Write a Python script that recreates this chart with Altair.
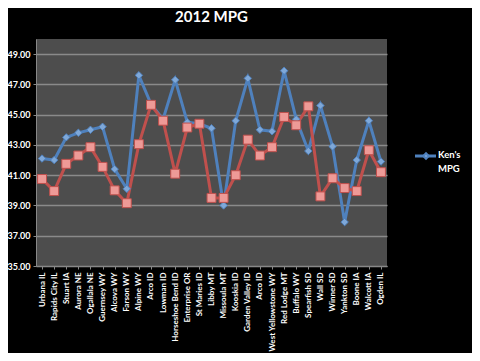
import altair as alt
import pandas as pd

cities = ["Urbana IL", "Rapids City IL", "Stuart IA", "Aurora NE", "Ogallala NE",
          "Guernsey WY", "Alcova WY", "Farson WY", "Alpine WY", "Arco ID",
          "Lowman ID", "Horseshoe Bend ID", "Enterprise OR", "St Maries ID",
          "Libby MT", "Missoula MT", "Kooskia ID", "Garden Valley ID", "Arco ID",
          "West Yellowstone WY", "Red Lodge MT", "Buffalo WY", "Spearfish SD",
          "Wall SD", "Winner SD", "Yankton SD", "Boone IA", "Walcott IA", "Ogden IL"]

kens_mpg = [42.1, 42.0, 43.5, 43.8, 44.0, 44.2, 41.4, 40.1, 47.6, 45.7,
            44.7, 47.3, 44.5, 44.4, 44.1, 39.0, 44.6, 47.4, 44.0,
            43.9, 47.9, 44.7, 42.6, 45.6, 42.9, 37.9, 42.0, 44.6, 41.9]

other_mpg = [40.75, 39.95, 41.75, 42.3, 42.85, 41.55, 40.0, 39.15, 43.05, 45.65,
             44.6, 41.1, 44.15, 44.4, 39.5, 39.5, 41.0, 43.35, 42.3,
             42.85, 44.85, 44.3, 45.55, 39.6, 40.8, 40.15, 39.95, 42.65, 41.2]

y_ticks = [35, 37, 39, 41, 43, 45, 47, 49]

df = pd.DataFrame({
    "idx": list(range(len(cities))),
    "city": cities,
    "kens": kens_mpg,
    "other": other_mpg,
})

label_expr = "[" + ",".join("'" + c + "'" for c in cities) + "][datum.value]"

BLUE = "#4f81bd"
BLUE_FILL = "#7fa8d8"
RED = "#c0504d"
RED_FILL = "#ee9a97"

x = alt.X("idx:O", title=None,
          scale=alt.Scale(type="point", padding=0.5),
          axis=alt.Axis(labelExpr=label_expr, labelAngle=270, labelColor="white",
                        labelFont="Lato", labelFontWeight="bold", labelFontSize=8,
                        labelPadding=3, tickColor="#888888", tickSize=3,
                        domainColor="#888888", grid=False, labelOverlap=False,
                        labelLimit=200))

y_axis = alt.Axis(values=y_ticks, format=".2f",
                  labelColor="white", labelFont="Lato", labelFontWeight="bold",
                  labelFontSize=9, tickColor="#888888", tickSize=3,
                  domainColor="#888888", gridColor="#8a8a8a", gridWidth=1.5,
                  labelPadding=3, labelOverlap=False)

y_scale = alt.Scale(domain=[35, 50], nice=False, zero=False)


def yenc(field):
    return alt.Y(field, title=None, scale=y_scale, axis=y_axis)


base = alt.Chart(df)

blue_line = base.mark_line(color=BLUE, strokeWidth=3).encode(x=x, y=yenc("kens:Q"))
blue_pts = base.mark_point(shape="diamond", filled=True, size=55, color=BLUE_FILL,
                           stroke=BLUE, strokeWidth=1, opacity=1).encode(
    x=x, y=yenc("kens:Q"))
red_line = base.mark_line(color=RED, strokeWidth=3).encode(x=x, y=yenc("other:Q"))
red_pts = base.mark_point(shape="square", filled=True, size=80, color=RED_FILL,
                          stroke=RED, strokeWidth=1, opacity=1).encode(
    x=x, y=yenc("other:Q"))

legend_df = pd.DataFrame({"label": ["Ken's\nMPG"]})
leg = alt.Chart(legend_df)
leg_rule = leg.mark_rule(color=BLUE, strokeWidth=3).encode(
    x=alt.value(379), x2=alt.value(400), y=alt.value(117))
leg_pt = leg.mark_point(shape="diamond", filled=True, size=30, color=BLUE_FILL,
                        stroke=BLUE, opacity=1).encode(
    x=alt.value(390), y=alt.value(117))
leg_txt = leg.mark_text(align="left", baseline="top", color="white", font="Lato",
                        fontWeight="bold", fontSize=9.5, lineBreak="\n",
                        lineHeight=14).encode(
    x=alt.value(402), y=alt.value(111), text="label:N")

chart = alt.layer(blue_line, red_line, blue_pts, red_pts, leg_rule, leg_pt, leg_txt).properties(
    width=351, height=227,
    title=alt.Title("2012 MPG", color="white", font="Lato", fontSize=15,
                    fontWeight="bold", anchor="middle", offset=14),
    background="black",
    padding={"left": 28, "top": 31, "right": 85, "bottom": 87},
    autosize=alt.AutoSizeParams(type="none"),
).configure_view(fill="#4d4d4d", stroke=None)

chart.save("out.html", embed_options={"renderer": "svg", "actions": False})
